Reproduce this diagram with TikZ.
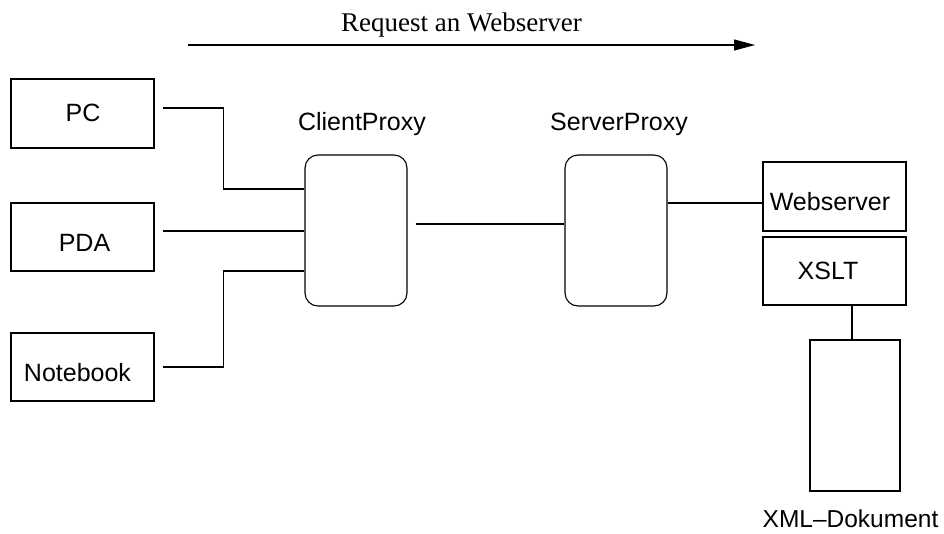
\documentclass[tikz,border=0pt]{standalone}
\usepackage{fontspec}
\setmainfont{Liberation Sans}
\newfontfamily\serifT{Liberation Serif}
\usetikzlibrary{arrows.meta}
\begin{document}
\begin{tikzpicture}[x=1pt,y=-1pt,
  line width=1.1pt,
  box/.style={draw, rectangle, inner sep=0pt, line width=1.1pt},
  proxy/.style={draw, rectangle, rounded corners=13pt, inner sep=0pt, line width=1.1pt,
                minimum width=102pt, minimum height=151pt},
  lbl/.style={font=\fontsize{25}{30}\selectfont, text height=18pt, text depth=0pt,
              inner sep=0pt, anchor=center},
  ttl/.style={font=\serifT\fontsize{27}{30}\selectfont, inner sep=0pt, anchor=base},
  wire/.style={line width=1.1pt}]
\useasboundingbox (0,0) rectangle (944,533);

% title and direction arrow
\node[ttl] (title) at (461.5,31.4) {Request an Webserver};
\coordinate (rs) at (188,45);
\coordinate (re) at (755,45);
\draw[wire,-{Triangle[length=21pt,width=11pt]}] (rs) -- (re);

% clients
\node[box, minimum width=143pt, minimum height=69pt,
      label={[lbl,xshift=0.5pt,yshift=1pt]center:PC}] (pc) at (82.5,113.5) {};
\node[box, minimum width=143pt, minimum height=68pt,
      label={[lbl,xshift=2pt,yshift=-5pt]center:PDA}] (pda) at (82.5,237) {};
\node[box, minimum width=143pt, minimum height=68pt,
      label={[lbl,xshift=-5pt,yshift=-5.5pt]center:Notebook}] (nb) at (82.5,367) {};

% proxies
\node[proxy, label={[lbl,xshift=6pt,yshift=109.5pt]center:ClientProxy}] (cp) at (356,230.5) {};
\node[proxy, label={[lbl,xshift=3pt,yshift=109.5pt]center:ServerProxy}] (sp) at (616,230.5) {};

% server side
\node[box, minimum width=143pt, minimum height=69pt,
      label={[lbl,xshift=-4.5pt,yshift=-4.5pt]center:Webserver}] (ws) at (834.5,196.5) {};
\node[box, minimum width=143pt, minimum height=68pt,
      label={[lbl,xshift=-6.5pt,yshift=0.5pt]center:XSLT}] (xslt) at (834.5,271) {};
\node[box, minimum width=90pt, minimum height=151pt,
      label={[lbl,font=\fontsize{24.5}{30}\selectfont,xshift=-4.5pt,yshift=-103pt]center:XML–Dokument}] (xml) at (855,415.5) {};

% connectors
\draw[wire] ([xshift=8pt,yshift=5.5pt]pc.east) -- ++(61,0) |- ([yshift=41.5pt]cp.west);
\draw[wire] ([xshift=8pt,yshift=6pt]pda.east) -- ([yshift=-0.5pt]cp.west);
\draw[wire] ([xshift=8pt]nb.east) -- ++(61,0) |- ([yshift=-40.5pt]cp.west);

\draw[wire] ([xshift=8pt,yshift=6.5pt]cp.east) -- ([yshift=6.5pt]sp.west);
\draw[line width=2pt] ([xshift=-7pt,yshift=6.3pt]sp.west) -- ([yshift=6.3pt]sp.west);
\draw[wire] ([yshift=27.5pt]sp.east) -- ([yshift=-6.5pt]ws.west);

\coordinate (xt) at ([xshift=-3pt]xml.north);
\draw[wire] (xt |- xslt.south) -- (xt);
\end{tikzpicture}
\end{document}
